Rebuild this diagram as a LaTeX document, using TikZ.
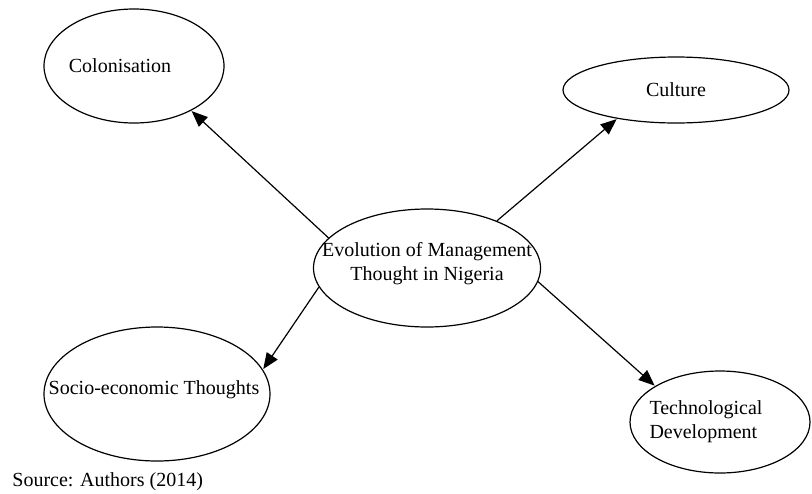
\documentclass[tikz,border=0pt]{standalone}
\usepackage{fontspec}
\setmainfont{Liberation Serif}
\usepackage{tikz}
\usetikzlibrary{arrows.meta}
\usetikzlibrary{shapes.geometric}

\begin{document}
\begin{tikzpicture}[
    x=0.5pt, y=-0.5pt,
    font=\normalsize,
    >={Triangle[length=8pt,width=6.5pt]}
  ]

  % Global Style Definitions
  \tikzset{
    bubble/.style={draw=black, line width=0.6pt, ellipse, inner sep=0pt},
    link/.style={->, black, line width=0.6pt, shorten >=0.3pt}
  }

  \useasboundingbox (0,0) rectangle (812,493);

  % Centre and the four factors (text as centre labels, so the ellipse keeps its size)
  \node (central) [bubble, minimum width=113.5pt, minimum height=59pt,
      label={[align=center, yshift=2pt]center:Evolution of Management\\Thought in Nigeria}] at (427,268) {};
  \node (colon)   [bubble, minimum width=90pt, minimum height=57pt,
      label={[xshift=-7pt]center:Colonisation}] at (134,66) {};
  \node (culture) [bubble, minimum width=113pt, minimum height=33pt,
      label={center:Culture}] at (676,90) {};
  \node (socio)   [bubble, minimum width=113pt, minimum height=67pt,
      label={[xshift=-1.5pt, yshift=2pt]center:Socio-economic Thoughts}] at (157,394) {};
  \node (tech)    [bubble, minimum width=90pt, minimum height=51pt,
      label={[xshift=-7pt, align=left]center:Technological\\Development}] at (720,422) {};

  % Arrows out of the centre
  \draw[link] (central.163.6) -- (colon.-38.5);
  \draw[link] (central.34.8) -- (culture.-154.5);
  \draw[link] (central.-170.5) -- (socio.13.1);
  \draw[link] (central.-7.4) -- (tech.151.6);

  % Source line
  \node (source) [anchor=west, inner sep=0pt] at (12,482) {Source: Authors (2014)};

\end{tikzpicture}
\end{document}
